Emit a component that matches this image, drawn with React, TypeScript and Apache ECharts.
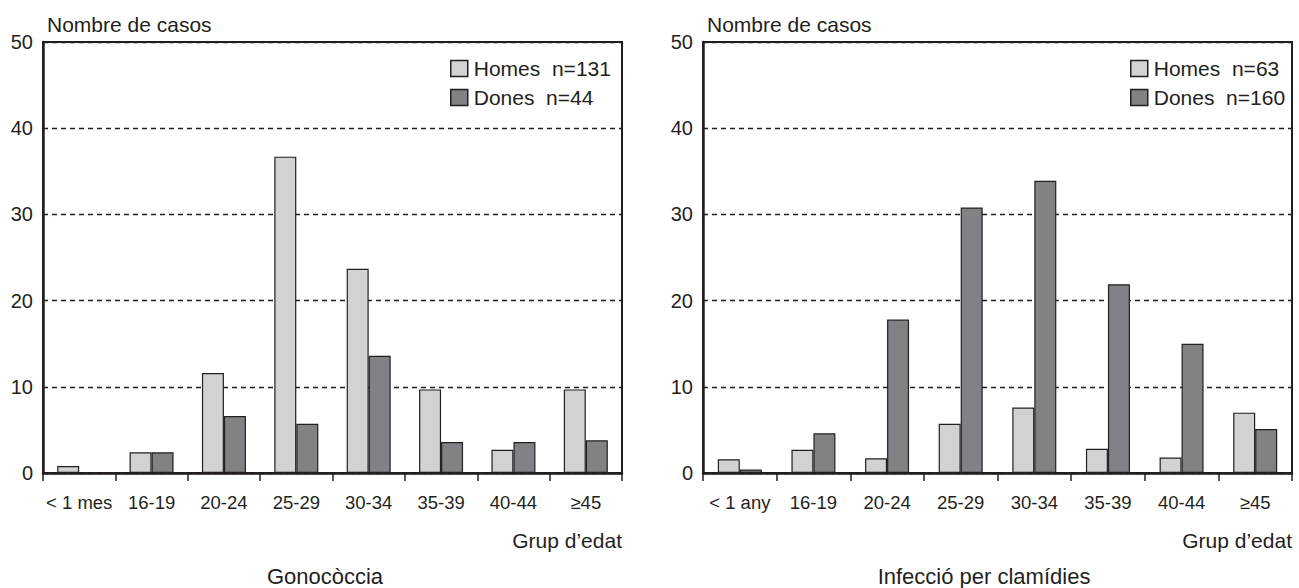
import React, { useEffect, useRef } from "react";
import * as echarts from "echarts";

const categoriesGono = ["< 1 mes", "16-19", "20-24", "25-29", "30-34", "35-39", "40-44", "≥45"];
const categoriesClam = ["< 1 any", "16-19", "20-24", "25-29", "30-34", "35-39", "40-44", "≥45"];
const gonoHomes = [0.8, 2.4, 11.6, 36.7, 23.7, 9.7, 2.7, 9.7];
const gonoDones = [0, 2.4, 6.6, 5.7, 13.6, 3.6, 3.6, 3.8];
const clamHomes = [1.6, 2.7, 1.7, 5.7, 7.6, 2.8, 1.8, 7.0];
const clamDones = [0.4, 4.6, 17.8, 30.8, 33.9, 21.9, 15.0, 5.1];
const legendGono = ["Homes  n=131", "Dones  n=44"];
const legendClam = ["Homes  n=63", "Dones  n=160"];
const titles = ["Gonocòccia", "Infecció per clamídies"];
const yAxisName = "Nombre de casos";
const xAxisName = "Grup d’edat";
const yMin = 0;
const yMax = 50;
const yStep = 10;

const FONT = "'Liberation Sans', Arial, Helvetica, sans-serif";
const INK = "#231f20";
const LIGHT = "#d1d2d4";
const DARK = "#808285";

export default function App() {
  const ref = useRef<HTMLDivElement>(null);

  useEffect(() => {
    if (!ref.current) return;
    const chart = echarts.init(ref.current, null, { renderer: "svg" });

    const grids = [
      { left: 43, top: 42, width: 579, height: 431 },
      { left: 703, top: 42, width: 589, height: 431 },
    ];

    const makeX = (idx: number, cats: string[]) => ({
      type: "category",
      gridIndex: idx,
      data: cats,
      boundaryGap: true,
      axisLine: { show: true, lineStyle: { color: INK, width: 2.5 } },
      axisTick: { show: true, inside: false, length: 8, interval: 0, lineStyle: { color: INK, width: 1.5 } },
      axisLabel: { color: INK, fontSize: 18.5, fontFamily: FONT, margin: 20, interval: 0, hideOverlap: false },
      splitLine: { show: false },
      name: xAxisName,
      nameLocation: "end",
      nameGap: 0,
      nameTextStyle: {
        color: INK,
        fontSize: 21,
        fontFamily: FONT,
        align: "right",
        verticalAlign: "top",
        padding: [57, 0, 0, 0],
      },
    });

    const makeY = (idx: number) => ({
      type: "value",
      gridIndex: idx,
      min: yMin,
      max: yMax,
      interval: yStep,
      axisLine: { show: true, lineStyle: { color: INK, width: 2.5 } },
      axisTick: { show: false },
      axisLabel: { color: INK, fontSize: 20, fontFamily: FONT, margin: 10 },
      splitLine: { show: true, lineStyle: { color: INK, width: 1.3, type: [5, 4] } },
      name: yAxisName,
      nameLocation: "end",
      nameGap: 18,
      nameTextStyle: {
        color: INK,
        fontSize: 21,
        fontFamily: FONT,
        align: "left",
        verticalAlign: "middle",
        padding: [0, 0, 0, 4],
      },
    });

    const barStyle = (color: string) => ({ color, borderColor: INK, borderWidth: 1.2 });

    const makeBar = (name: string, data: number[], idx: number, color: string) => ({
      type: "bar",
      name,
      data,
      xAxisIndex: idx,
      yAxisIndex: idx,
      barWidth: 22,
      barGap: "0%",
      itemStyle: barStyle(color),
      emphasis: { disabled: true },
    });

    const makeLegend = (names: string[], left: number) => ({
      data: names,
      orient: "vertical",
      left,
      top: 53,
      icon: "rect",
      itemWidth: 17,
      itemHeight: 16,
      itemGap: 8,
      selectedMode: false,
      itemStyle: { borderColor: INK, borderWidth: 1.5 },
      textStyle: { color: INK, fontSize: 21, fontFamily: FONT, lineHeight: 21, padding: [0, 0, 0, 1] },
    });

    const titleText = (text: string, x: number) => ({
      type: "text",
      x,
      y: 576,
      style: {
        text,
        fill: INK,
        fontSize: 22,
        fontFamily: FONT,
        textAlign: "center",
        textVerticalAlign: "middle",
        align: "center",
        verticalAlign: "middle",
      },
    });

    const option = {
      animation: false,
      backgroundColor: "#ffffff",
      grid: grids.map((g) => ({ ...g, show: true, borderColor: INK, borderWidth: 2, backgroundColor: "transparent" })),
      xAxis: [makeX(0, categoriesGono), makeX(1, categoriesClam)],
      yAxis: [makeY(0), makeY(1)],
      legend: [makeLegend(legendGono, 445), makeLegend(legendClam, 1125)],
      series: [
        makeBar(legendGono[0], gonoHomes, 0, LIGHT),
        makeBar(legendGono[1], gonoDones, 0, DARK),
        makeBar(legendClam[0], clamHomes, 1, LIGHT),
        makeBar(legendClam[1], clamDones, 1, DARK),
      ],
      graphic: [titleText(titles[0], 325), titleText(titles[1], 984)],
    };

    chart.setOption(option as any);
    return () => chart.dispose();
  }, []);

  return (
    <div
      ref={ref}
      style={{ position: "absolute", left: 0, top: 0, width: 1299, height: 588, background: "#fff" }}
    />
  );
}
